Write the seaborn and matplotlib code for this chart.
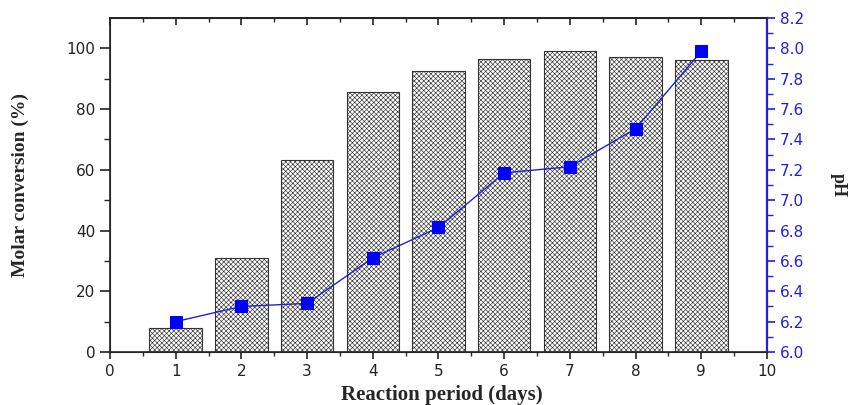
import numpy as np
import pandas as pd
import matplotlib
matplotlib.use("Agg")
import matplotlib.pyplot as plt
from matplotlib.ticker import MultipleLocator, FormatStrFormatter
import seaborn as sns

days = [1, 2, 3, 4, 5, 6, 7, 8, 9]
conversion = [8.0, 30.8, 63.2, 85.7, 92.6, 96.4, 99.2, 97.3, 96.2]
ph = [6.20, 6.30, 6.32, 6.62, 6.82, 7.18, 7.22, 7.47, 7.98]

df = pd.DataFrame({"day": days, "conversion": conversion, "pH": ph})

sns.set_style("ticks")
plt.rcParams["font.family"] = ["DejaVu Sans"]
plt.rcParams["hatch.linewidth"] = 0.45
plt.rcParams["hatch.color"] = "#3a3a3a"

blue = "#2020d8"
fig = plt.figure(figsize=(8.55, 4.05), dpi=100)
ax = fig.add_axes([0.1287, 0.1309, 0.7683, 0.8247])

sns.barplot(data=df, x="day", y="conversion", native_scale=True, width=0.8,
            color="white", edgecolor="#333333", linewidth=0.8, ax=ax)
for p in ax.patches:
    p.set_hatch("xxxxxxx")

ax.set_xlim(0, 10)
ax.set_ylim(0, 110)
ax.xaxis.set_major_locator(MultipleLocator(1))
ax.xaxis.set_minor_locator(MultipleLocator(0.5))
ax.set_yticks(np.arange(0, 101, 20))
ax.set_yticks(np.arange(10, 101, 20), minor=True)
ax.tick_params(axis="both", which="major", labelsize=11, width=1.2, colors="#222222")
ax.tick_params(axis="y", which="major", length=7)
ax.tick_params(axis="y", which="minor", length=4, width=1)
ax.tick_params(axis="x", which="major", length=5)
ax.tick_params(axis="x", which="minor", length=3, width=1)
for s in ax.spines.values():
    s.set_linewidth(1.2)
    s.set_color("#222222")

# top ticks point inward, bottom ones outward
top = ax.secondary_xaxis("top")
top.xaxis.set_major_locator(MultipleLocator(1))
top.xaxis.set_minor_locator(MultipleLocator(0.5))
top.tick_params(which="major", direction="in", length=5, width=1.2, colors="#222222", labeltop=False)
top.tick_params(which="minor", direction="in", length=3, width=1, colors="#222222")
top.spines["top"].set_linewidth(1.2)
top.spines["top"].set_color("#222222")

ax.set_xlabel("Reaction period (days)", family="Liberation Serif", fontweight="bold", fontsize=15)
ax.xaxis.set_label_coords(0.505, -0.098)
ax.set_ylabel("Molar conversion (%)", family="Liberation Serif", fontweight="bold", fontsize=14)
ax.yaxis.set_label_coords(-0.124, 0.5)

ax2 = ax.twinx()
sns.lineplot(data=df, x="day", y="pH", color=blue, linewidth=1, marker="s",
             markersize=9, markerfacecolor="#0000ff", markeredgecolor="#0000ff", ax=ax2)
ax2.set_ylim(6.0, 8.2)
ax2.yaxis.set_major_locator(MultipleLocator(0.2))
ax2.yaxis.set_minor_locator(MultipleLocator(0.1))
ax2.yaxis.set_major_formatter(FormatStrFormatter("%.1f"))
ax2.tick_params(axis="y", which="major", labelsize=11, length=6, width=1.2, colors=blue)
ax2.tick_params(axis="y", which="minor", length=4, width=1, colors=blue)
ax2.spines["right"].set_color(blue)
ax2.spines["right"].set_linewidth(1.6)
ax2.set_ylabel("pH", family="Liberation Serif", fontweight="bold", fontsize=13, rotation=270)
ax2.yaxis.set_label_coords(1.122, 0.5)

fig.savefig("out.png", dpi=100)
